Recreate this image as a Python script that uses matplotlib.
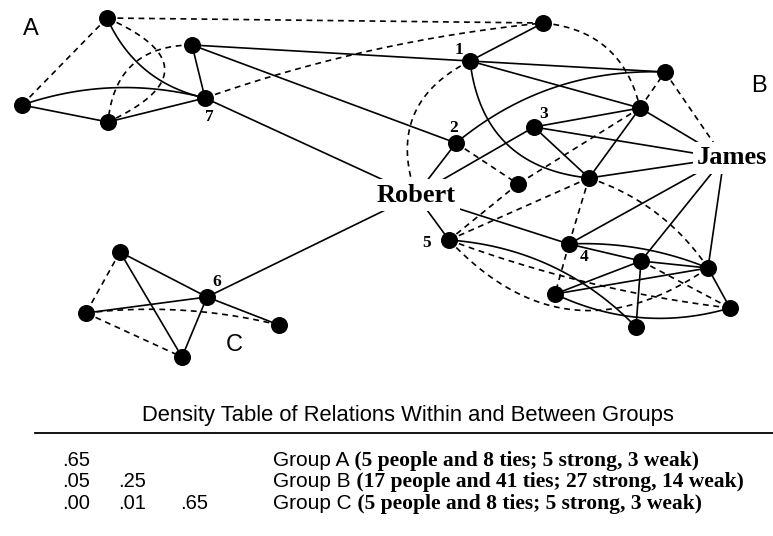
import numpy as np
import matplotlib.pyplot as plt

# node positions (picture pixels, y downward)
node_names = ['a_top', 'a_left', 'a_bot', 'a_up', 'n7',
              'TR', 'n1', 'BRT', 'B2', 'n3', 'n2', 'SM', 'NB3',
              'n5', 'n4', 'N41', 'NFR', 'LL', 'BOT', 'FRB',
              'c_top', 'c_left', 'n6', 'c_right', 'c_bot',
              'Robert', 'James']
node_x = [107, 22, 108, 192, 205,
          543, 470, 665, 640, 534, 456, 518, 589,
          449, 569, 641, 708, 555, 636, 730,
          120, 86, 207, 279, 182,
          416, 724]
node_y = [18, 105, 122, 45, 98,
          23, 61, 72, 108, 127, 143, 184, 178,
          240, 244, 261, 268, 294, 327, 308,
          252, 313, 297, 325, 357,
          195, 158]
person_labels = ['Robert', 'James']

# ties: (from, to, strong?, bend)
ties = [
    # group A
    ('a_top', 'n7', True, -0.25), ('a_left', 'n7', True, 0.15),
    ('a_left', 'a_bot', True, 0), ('a_bot', 'n7', True, 0),
    ('a_up', 'n7', True, 0), ('a_top', 'a_left', False, 0),
    ('a_top', 'a_bot', False, 1.1), ('a_up', 'a_bot', False, -0.45),
    # between groups
    ('a_top', 'TR', False, 0), ('n7', 'TR', False, 0.06),
    ('a_up', 'n1', True, 0), ('a_up', 'n2', True, 0),
    ('n7', 'Robert', True, 0), ('n6', 'Robert', True, 0),
    # group B
    ('n1', 'TR', True, 0), ('n1', 'BRT', True, 0), ('n1', 'B2', True, 0),
    ('n1', 'NB3', True, -0.4), ('n1', 'Robert', False, -0.44),
    ('TR', 'B2', False, 0.36), ('n2', 'BRT', True, 0.19),
    ('n2', 'SM', False, 0), ('n2', 'Robert', True, 0),
    ('n3', 'B2', True, 0), ('n3', 'James', True, 0), ('n3', 'NB3', True, 0),
    ('n3', 'Robert', True, 0), ('B2', 'NB3', True, 0), ('B2', 'SM', False, 0),
    ('B2', 'BRT', False, 0), ('B2', 'James', True, 0), ('BRT', 'James', False, 0),
    ('NB3', 'James', True, 0), ('NB3', 'n4', False, 0), ('NB3', 'n5', False, 0),
    ('NB3', 'NFR', False, 0.17), ('SM', 'n5', False, 0),
    ('n5', 'Robert', True, 0), ('n5', 'BOT', True, 0.19),
    ('n5', 'FRB', False, -0.06), ('n5', 'NFR', False, -0.43),
    ('n4', 'LL', False, 0), ('n4', 'N41', True, 0), ('n4', 'NFR', True, 0.11),
    ('n4', 'Robert', True, 0), ('n4', 'James', True, 0),
    ('N41', 'LL', True, 0), ('N41', 'NFR', True, 0), ('N41', 'BOT', True, 0),
    ('N41', 'FRB', False, 0), ('N41', 'James', True, 0),
    ('NFR', 'LL', True, 0), ('NFR', 'FRB', True, 0), ('NFR', 'James', True, 0),
    ('LL', 'FRB', True, -0.19),
    # group C
    ('c_top', 'c_left', False, 0), ('c_top', 'n6', True, 0),
    ('c_top', 'c_bot', True, 0), ('c_left', 'n6', True, 0),
    ('c_left', 'c_bot', False, 0), ('c_left', 'c_right', False, 0.09),
    ('n6', 'c_bot', True, 0), ('n6', 'c_right', True, 0),
]

node_numbers = ['1', '2', '3', '4', '5', '6', '7']
number_x = [459, 454, 544, 584, 427, 217, 209]
number_y = [50, 128, 114, 257, 243, 282, 117]

group_names = ['A', 'B', 'C']
group_x = [31, 759, 234]
group_y = [29, 86, 345]

table_title = 'Density Table of Relations Within and Between Groups'
densities = [['.65'], ['.05', '.25'], ['.00', '.01', '.65']]
row_groups = ['Group A', 'Group B', 'Group C']
row_notes = [' (5 people and 8 ties; 5 strong, 3 weak)',
             ' (17 people and 41 ties; 27 strong, 14 weak)',
             ' (5 people and 8 ties; 5 strong, 3 weak)']

pos = {n: np.array([x, y], float) for n, x, y in zip(node_names, node_x, node_y)}


def curve(p, q, bend, n=80):
    d = q - p
    ctrl = (p + q) / 2 + bend * np.array([d[1], -d[0]])
    t = np.linspace(0, 1, n)[:, None]
    return (1 - t) ** 2 * p + 2 * (1 - t) * t * ctrl + t ** 2 * q


fig = plt.figure(figsize=(7.73, 5.36), dpi=100)
ax = fig.add_axes([0, 0, 1, 1])
ax.set_xlim(0, 773)
ax.set_ylim(536, 0)
ax.axis('off')

for u, v, strong, bend in ties:
    pts = curve(pos[u], pos[v], bend)
    ax.plot(pts[:, 0], pts[:, 1], color='black', lw=1.2,
            linestyle='-' if strong else (0, (3.5, 2.8)), zorder=1)

people = [n for n in node_names if n not in person_labels]
ax.scatter([pos[n][0] for n in people], [pos[n][1] for n in people],
           s=150, color='black', zorder=4, linewidths=0)

ax.text(pos['Robert'][0], pos['Robert'][1], 'Robert', family='Liberation Serif',
        weight='bold', fontsize=19, ha='center', va='center', zorder=3,
        bbox=dict(fc='white', ec='none', pad=3))
ax.text(697, pos['James'][1], 'James', family='Liberation Serif',
        weight='bold', fontsize=19, ha='left', va='center', zorder=3,
        bbox=dict(fc='white', ec='none', pad=3))

for s, x, y in zip(node_numbers, number_x, number_y):
    ax.text(x, y, s, family='Liberation Serif', weight='bold', fontsize=12.5,
            ha='center', va='center', zorder=3)

for s, x, y in zip(group_names, group_x, group_y):
    ax.text(x, y, s, family='Liberation Sans', fontsize=17,
            ha='center', va='center', zorder=3)

# density table
ax.text(408, 416, table_title, family='Liberation Sans', fontsize=15.8,
        ha='center', va='center')
ax.plot([35, 773], [433, 433], color='black', lw=1.3)

row_y = [466, 487, 509]
col_x = [62, 118, 180]
fig.canvas.draw()
renderer = fig.canvas.get_renderer()
for vals, grp, note, y in zip(densities, row_groups, row_notes, row_y):
    for v, x in zip(vals, col_x):
        ax.text(x, y, v, family='Liberation Sans', fontsize=14.5,
                ha='left', va='baseline')
    t = ax.text(273, y, grp, family='Liberation Sans', fontsize=15,
                ha='left', va='baseline')
    right = t.get_window_extent(renderer).x1
    x_next = ax.transData.inverted().transform((right, 0))[0]
    ax.text(x_next, y, note, family='Liberation Serif', weight='bold',
            fontsize=15.5, ha='left', va='baseline')

fig.savefig('out.png', dpi=100)
